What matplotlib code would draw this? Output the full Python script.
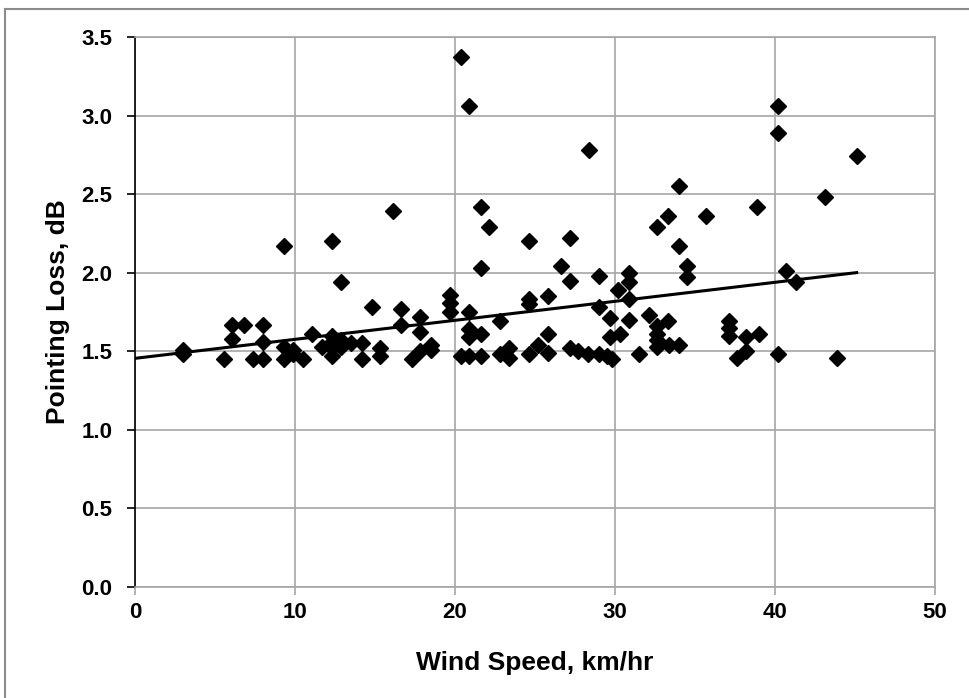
import numpy as np
import matplotlib.pyplot as plt
from matplotlib.lines import Line2D

# Wind speed (km/hr) y pointing loss (dB)
wind_speed = [3.0, 3.0, 5.6, 6.1, 6.8, 6.1, 7.4, 8.0, 8.0, 8.0,
              9.3, 9.3, 9.3, 9.9, 9.9, 10.5, 11.1, 11.7, 12.3, 12.3,
              12.3, 12.3, 12.3, 12.9, 12.9, 12.9, 13.5, 14.2, 14.2, 14.8,
              15.3, 15.3, 16.1, 16.6, 16.6, 17.3, 17.8, 17.8, 17.8, 18.5,
              18.5, 19.7, 19.7, 19.7, 20.4, 20.4, 20.9, 20.9, 20.9, 20.9,
              20.9, 21.6, 21.6, 21.6, 21.6, 22.1, 22.8, 22.8, 23.4, 23.4,
              24.6, 24.6, 24.6, 24.6, 25.2, 25.8, 25.8, 25.8, 26.6, 27.2,
              27.2, 27.2, 27.7, 28.3, 28.4, 29.0, 29.0, 29.0, 29.5, 29.7,
              29.7, 29.8, 30.2, 30.3, 30.9, 30.9, 30.9, 30.9, 31.5, 32.1,
              32.6, 32.6, 32.6, 32.6, 32.6, 33.3, 33.3, 33.4, 34.0, 34.0,
              34.0, 34.5, 34.5, 35.7, 37.1, 37.1, 37.1, 37.6, 38.2, 38.2,
              38.9, 39.0, 40.2, 40.2, 40.2, 40.7, 41.3, 43.1, 43.9, 45.1]
pointing_loss = [1.51, 1.48, 1.45, 1.67, 1.67, 1.58, 1.45, 1.67, 1.56, 1.45,
                 2.17, 1.53, 1.45, 1.51, 1.48, 1.45, 1.61, 1.53, 2.20, 1.60,
                 1.56, 1.52, 1.47, 1.94, 1.57, 1.53, 1.55, 1.55, 1.45, 1.78,
                 1.52, 1.47, 2.39, 1.77, 1.67, 1.45, 1.72, 1.62, 1.50, 1.51,
                 1.54, 1.86, 1.81, 1.75, 3.37, 1.47, 3.06, 1.75, 1.64, 1.59,
                 1.47, 2.42, 2.03, 1.61, 1.47, 2.29, 1.69, 1.48, 1.52, 1.46,
                 2.20, 1.83, 1.80, 1.48, 1.54, 1.85, 1.61, 1.49, 2.04, 2.22,
                 1.95, 1.52, 1.50, 1.48, 2.78, 1.98, 1.78, 1.48, 1.47, 1.71,
                 1.59, 1.45, 1.89, 1.61, 2.00, 1.94, 1.83, 1.70, 1.48, 1.73,
                 2.29, 1.66, 1.61, 1.57, 1.53, 2.36, 1.69, 1.54, 2.55, 2.17,
                 1.54, 2.04, 1.97, 2.36, 1.69, 1.65, 1.60, 1.46, 1.59, 1.50,
                 2.42, 1.61, 3.06, 2.89, 1.48, 2.01, 1.94, 2.48, 1.46, 2.74]

# Linea de tendencia tal como aparece en el grafico
trend_intercept = 1.455
trend_slope = 0.0121

x_ticks = [0, 10, 20, 30, 40, 50]
y_ticks = [0.0, 0.5, 1.0, 1.5, 2.0, 2.5, 3.0, 3.5]

plt.rcParams['font.family'] = ['Liberation Sans', 'DejaVu Sans']

fig = plt.figure(figsize=(9.7, 6.98), dpi=100)
ax = fig.add_axes([0.139, 0.159, 0.825, 0.788])

xt = np.array([0, max(wind_speed)])
ax.plot(xt, trend_intercept + trend_slope * xt, color='black', lw=2.2, zorder=3)

ax.plot(wind_speed, pointing_loss, 'D', color='black', ms=8, zorder=4)

ax.set_xlim(0, 50)
ax.set_ylim(0, 3.5)
ax.set_xticks(x_ticks)
ax.set_yticks(y_ticks)
ax.set_yticklabels([f'{v:.1f}' for v in y_ticks])
ax.grid(True, color='#a6a6a6', lw=1.2)
ax.set_axisbelow(True)

for s in ['top', 'right', 'bottom']:
    ax.spines[s].set_color('#a6a6a6')
    ax.spines[s].set_linewidth(1.2)
ax.spines['left'].set_color('black')
ax.spines['left'].set_linewidth(1.2)

ax.tick_params(axis='x', direction='out', length=6, color='#a6a6a6', width=1.2,
               labelsize=16, pad=5)
ax.tick_params(axis='y', direction='out', length=6, color='black', width=1.2,
               labelsize=16, pad=10)
for lbl in ax.get_xticklabels() + ax.get_yticklabels():
    lbl.set_fontweight('bold')

ax.set_xlabel('Wind Speed, km/hr', fontsize=19, fontweight='bold', labelpad=20)
ax.set_ylabel('Pointing Loss, dB', fontsize=19, fontweight='bold', labelpad=8)

# Borde gris de la figura (arriba e izquierda)
fig.add_artist(Line2D([5 / 970, 1], [1 - 9 / 698, 1 - 9 / 698], color='#8c8c8c', lw=1.5))
fig.add_artist(Line2D([5 / 970, 5 / 970], [0, 1 - 9 / 698], color='#8c8c8c', lw=1.5))

fig.savefig('out.png', dpi=100)
